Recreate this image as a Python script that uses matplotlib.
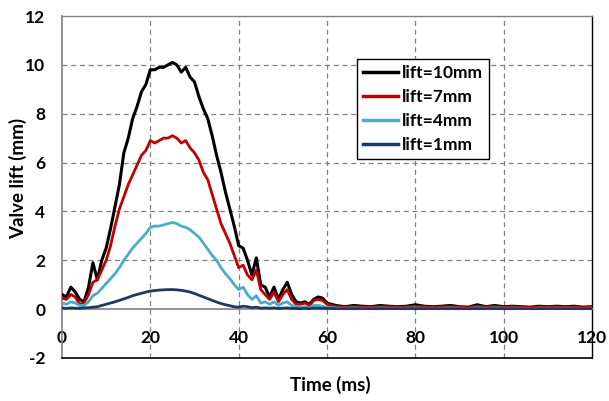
import matplotlib
matplotlib.use("Agg")
import matplotlib.pyplot as plt

plt.rcParams['font.family'] = ['Lato', 'DejaVu Sans']
plt.rcParams['font.weight'] = 'bold'

# time axis (ms): 1 ms steps to 60, then 2 ms steps
time_ms = list(range(0, 61)) + list(range(62, 121, 2))

lift_10mm = [0.6, 0.5, 0.9, 0.7, 0.4, 0.3, 0.9, 1.9, 1.2, 2.0,
             2.5, 3.3, 4.2, 5.1, 6.4, 7.0, 7.8, 8.3, 8.9, 9.2,
             9.8, 9.8, 9.9, 9.9, 10.0, 10.1, 10.0, 9.7, 9.9, 9.5,
             9.3, 8.7, 8.2, 7.8, 7.1, 6.3, 5.6, 4.8, 4.1, 3.4,
             2.6, 2.5, 2.0, 1.4, 2.1, 1.0, 0.9, 0.5, 0.9, 0.4,
             0.8, 1.1, 0.6, 0.3, 0.25, 0.3, 0.2, 0.4, 0.5, 0.45,
             0.25,
             0.15, 0.1, 0.15, 0.12, 0.1, 0.15, 0.12, 0.1, 0.12, 0.18,
             0.12, 0.1, 0.12, 0.15, 0.1, 0.08, 0.18, 0.1, 0.15, 0.1,
             0.12, 0.1, 0.08, 0.12, 0.1, 0.12, 0.1, 0.12, 0.08, 0.1]

lift_7mm = [0.45, 0.4, 0.6, 0.5, 0.2, 0.25, 0.6, 1.1, 1.2, 1.6,
            2.0, 2.6, 3.4, 4.1, 4.6, 5.1, 5.5, 5.9, 6.3, 6.5,
            6.9, 6.8, 6.9, 7.0, 7.0, 7.1, 7.0, 6.8, 6.9, 6.6,
            6.4, 6.1, 5.6, 5.3, 4.7, 4.1, 3.5, 3.1, 2.7, 2.2,
            1.7, 1.8, 1.4, 1.2, 1.6, 0.8, 0.6, 0.4, 0.7, 0.3,
            0.6, 0.8, 0.4, 0.2, 0.2, 0.25, 0.15, 0.35, 0.4, 0.35,
            0.2,
            0.1, 0.08, 0.1, 0.09, 0.08, 0.1, 0.09, 0.08, 0.09, 0.12,
            0.09, 0.08, 0.09, 0.1, 0.08, 0.06, 0.12, 0.08, 0.1, 0.08,
            0.09, 0.08, 0.06, 0.09, 0.08, 0.09, 0.08, 0.09, 0.06, 0.08]

lift_4mm = [0.25, 0.2, 0.3, 0.25, 0.15, 0.15, 0.3, 0.55, 0.65, 0.85,
            1.05, 1.25, 1.45, 1.7, 2.0, 2.25, 2.5, 2.7, 2.9, 3.1,
            3.35, 3.4, 3.4, 3.45, 3.5, 3.55, 3.5, 3.4, 3.35, 3.25,
            3.1, 2.95, 2.7, 2.45, 2.2, 2.0, 1.7, 1.45, 1.25, 1.0,
            0.8, 0.9, 0.6, 0.4, 0.55, 0.25, 0.3, 0.2, 0.3, 0.15,
            0.25, 0.3, 0.15, 0.1, 0.08, 0.1, 0.06, 0.15, 0.15, 0.12,
            0.08,
            0.05, 0.04, 0.05, 0.04, 0.04, 0.05, 0.04, 0.04, 0.04, 0.05,
            0.04, 0.04, 0.04, 0.05, 0.04, 0.03, 0.05, 0.04, 0.05, 0.04,
            0.04, 0.04, 0.03, 0.04, 0.04, 0.04, 0.04, 0.04, 0.03, 0.04]

lift_1mm = [0.05, 0.03, 0.05, 0.04, 0.03, 0.05, 0.06, 0.08, 0.1, 0.15,
            0.2, 0.25, 0.3, 0.36, 0.42, 0.48, 0.55, 0.6, 0.65, 0.7,
            0.74, 0.76, 0.78, 0.79, 0.8, 0.8, 0.79, 0.77, 0.74, 0.7,
            0.64, 0.57, 0.5, 0.43, 0.36, 0.29, 0.23, 0.18, 0.14, 0.1,
            0.08, 0.12, 0.1, 0.06, 0.08, 0.04, 0.05, 0.04, 0.05, 0.03,
            0.04, 0.05, 0.03, 0.03, 0.02, 0.03, 0.02, 0.04, 0.04, 0.03,
            0.03,
            0.02, 0.02, 0.02, 0.02, 0.02, 0.02, 0.02, 0.02, 0.02, 0.02,
            0.02, 0.02, 0.02, 0.02, 0.02, 0.02, 0.02, 0.02, 0.02, 0.02,
            0.02, 0.02, 0.02, 0.02, 0.02, 0.02, 0.02, 0.02, 0.02, 0.02]

series = [
    ("lift=10mm", lift_10mm, "#000000", 2.2),
    ("lift=7mm", lift_7mm, "#C00000", 2.0),
    ("lift=4mm", lift_4mm, "#4BACC6", 2.0),
    ("lift=1mm", lift_1mm, "#1F3864", 2.0),
]

x_ticks = [0, 20, 40, 60, 80, 100, 120]
y_ticks = [-2, 0, 2, 4, 6, 8, 10, 12]

fig = plt.figure(figsize=(6.09, 4.01), dpi=100)
ax = fig.add_axes([62/609, 1-358/401, 530/609, 342/401])

for label, vals, color, lw in series:
    ax.plot(time_ms, vals, color=color, lw=lw, label=label, zorder=3)

ax.set_xlim(0, 120)
ax.set_ylim(-2, 12)
ax.set_xticks(x_ticks)
ax.set_yticks(y_ticks)
ax.set_xticklabels([str(v) for v in x_ticks])
ax.set_yticklabels([str(v) for v in y_ticks])

# grid
for gx in x_ticks[1:-1]:
    ax.axvline(gx, color='#808080', lw=0.9, ls=(0, (4, 3)), zorder=1)
for gy in y_ticks[2:-1]:
    ax.axhline(gy, color='#808080', lw=0.9, ls=(0, (4, 3)), zorder=1)

# x axis at y=0
ax.spines['bottom'].set_position(('data', 0))
ax.spines['bottom'].set_color('#808080')
ax.spines['bottom'].set_linewidth(1.2)
ax.spines['left'].set_color('#808080')
ax.spines['left'].set_linewidth(1.2)
ax.spines['top'].set_color('#808080')
ax.spines['top'].set_linewidth(1.0)
ax.spines['right'].set_color('#000000')
ax.spines['right'].set_linewidth(1.0)
ax.axhline(-2, color='#000000', lw=1.2, clip_on=False, zorder=4)

ax.tick_params(axis='x', length=0, pad=15, labelsize=12.5)
ax.tick_params(axis='y', length=0, pad=12, labelsize=12.5)
for t in ax.get_xticklabels() + ax.get_yticklabels():
    t.set_fontweight('bold')

fig.text(18/609, 1-178/401, "Valve lift (mm)", rotation=90, ha='center', va='center',
         fontsize=13.5, fontweight='bold')
fig.text(330/609, 1-385/401, "Time (ms)", ha='center', va='center',
         fontsize=13.5, fontweight='bold')

leg = ax.legend(loc='upper left', bbox_to_anchor=(0.557, 0.874), fancybox=False,
                edgecolor='#000000', framealpha=1, fontsize=12.5, handlelength=2.0,
                handletextpad=0.25, labelspacing=0.45, borderpad=0.35, borderaxespad=0)
leg.get_frame().set_linewidth(1.0)
for line in leg.get_lines():
    line.set_linewidth(2.5)
for t in leg.get_texts():
    t.set_fontweight('bold')

fig.savefig("out.png", dpi=100)
